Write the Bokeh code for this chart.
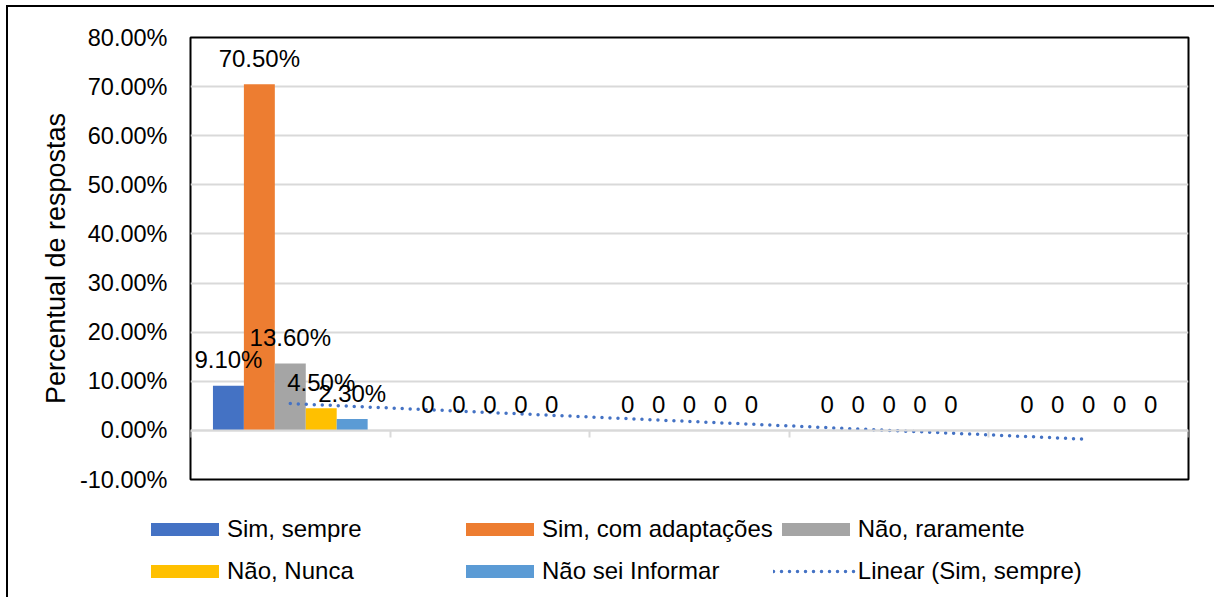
import numpy as np
from bokeh.plotting import figure
from bokeh.layouts import column
from bokeh.models import (Range1d, FixedTicker, NumeralTickFormatter, Legend, LegendItem,
                          ColumnDataSource)
from bokeh.core.properties import value
from bokeh.embed import file_html
from bokeh.resources import INLINE

# ---- data ----
groups = [1, 2, 3, 4, 5]
series_names = ["Sim, sempre", "Sim, com adaptações", "Não, raramente", "Não, Nunca", "Não sei Informar"]
sim_sempre = [0.091, 0.0, 0.0, 0.0, 0.0]
sim_com_adaptacoes = [0.705, 0.0, 0.0, 0.0, 0.0]
nao_raramente = [0.136, 0.0, 0.0, 0.0, 0.0]
nao_nunca = [0.045, 0.0, 0.0, 0.0, 0.0]
nao_sei_informar = [0.023, 0.0, 0.0, 0.0, 0.0]
y_ticks = [-0.1, 0.0, 0.1, 0.2, 0.3, 0.4, 0.5, 0.6, 0.7, 0.8]
trend_name = "Linear (Sim, sempre)"
y_label = "Percentual de respostas"

series_values = [sim_sempre, sim_com_adaptacoes, nao_raramente, nao_nunca, nao_sei_informar]
colors = ["#4472C4", "#ED7D31", "#A5A5A5", "#FFC000", "#5B9BD5"]

FONT = "Liberation Sans"
FS = "24px"
W = 1206

p = figure(width=W, height=500, output_backend="svg", toolbar_location=None,
           x_range=Range1d(0.5, 5.5), y_range=Range1d(-0.1, 0.8),
           min_border_left=182, min_border_right=26, min_border_top=30, min_border_bottom=28)
p.frame_align = False

p.outline_line_color = "black"
p.outline_line_width = 2
p.background_fill_color = "white"
p.border_fill_color = "white"

# y axis
p.yaxis.ticker = FixedTicker(ticks=y_ticks)
p.yaxis.formatter = NumeralTickFormatter(format="0.00%")
p.yaxis.axis_line_color = None
p.yaxis.major_tick_line_color = None
p.yaxis.minor_tick_line_color = None
p.yaxis.major_label_standoff = 17
p.yaxis.major_label_text_font = FONT
p.yaxis.major_label_text_font_size = "23.5px"
p.yaxis.major_label_text_color = "black"
p.yaxis.axis_label = y_label
p.yaxis.axis_label_text_font = FONT
p.yaxis.axis_label_text_font_size = "27px"
p.yaxis.axis_label_text_font_style = "normal"
p.yaxis.axis_label_text_color = "black"
p.yaxis.axis_label_standoff = 6

# x axis at zero
bounds = [g - 0.5 for g in groups] + [groups[-1] + 0.5]
p.xaxis.fixed_location = 0
p.xaxis.ticker = FixedTicker(ticks=bounds)
p.xaxis.major_label_text_font_size = "0px"
p.xaxis.major_label_text_color = None
p.xaxis.axis_line_color = "#d9d9d9"
p.xaxis.axis_line_width = 2
p.xaxis.major_tick_line_color = "#d9d9d9"
p.xaxis.major_tick_line_width = 2
p.xaxis.major_tick_in = 0
p.xaxis.major_tick_out = 7
p.xaxis.minor_tick_line_color = None

p.xgrid.visible = False
p.ygrid.ticker = FixedTicker(ticks=y_ticks)
p.ygrid.grid_line_color = "#d9d9d9"
p.ygrid.grid_line_width = 2

bar_w = 0.155
n = len(series_values)
sources = []
for i, (name, vals, col) in enumerate(zip(series_names, series_values, colors)):
    off = (i - (n - 1) / 2) * bar_w
    xs = [g + off for g in groups]
    labels = [("%.2f%%" % (v * 100)) if v != 0 else "0" for v in vals]
    src = ColumnDataSource(dict(x=xs, top=vals, label=labels))
    sources.append(src)
    p.vbar(x="x", top="top", width=bar_w, bottom=0, source=src,
           fill_color=col, line_color=None)

# linear trendline for "Sim, sempre"
slope, intercept = np.polyfit(groups, sim_sempre, 1)
tx = [groups[0], groups[-1]]
ty = [slope * t + intercept for t in tx]
TREND = dict(line_color="#4472C4", line_width=3.5, line_dash="0 8", line_cap="round")
p.line(tx, ty, **TREND)

for src in sources:
    p.text(x="x", y="top", text="label", source=src, text_align="center",
           text_baseline="alphabetic", y_offset=-26, text_font=value(FONT),
           text_font_size=FS, text_color="black")

# ---- legend strip (second figure) ----
p2 = figure(width=W, height=90, output_backend="svg", toolbar_location=None,
            x_range=Range1d(0.5, 5.5), y_range=Range1d(-0.1, 0.8),
            x_axis_location=None, y_axis_location=None, min_border=0)
p2.frame_align = False
p2.outline_line_color = None
p2.grid.visible = False
items = []
for name, vals, col in zip(series_names, series_values, colors):
    r = p2.vbar(x=groups, top=vals, width=bar_w, fill_color=col, line_color=None, visible=False)
    items.append(LegendItem(label=name, renderers=[r]))
r = p2.line(tx, ty, visible=False, **TREND)
items.append(LegendItem(label=trend_name, renderers=[r]))

legend = Legend(items=items, orientation="horizontal", ncols=3,
                location=(134, 5),
                glyph_width=85, glyph_height=16, label_standoff=0, label_width=230,
                label_height=42, spacing=0, padding=0, margin=0,
                border_line_color=None, background_fill_alpha=0,
                inactive_fill_alpha=0,
                label_text_font=FONT, label_text_font_size=FS, label_text_color="black")
p2.add_layout(legend, "center")

layout = column(p, p2, spacing=0)
layout.styles = {"border-left": "2px solid black", "border-top": "2px solid black",
                 "margin-left": "6px", "margin-top": "5px"}

open("out.html", "w").write(file_html(layout, INLINE))
